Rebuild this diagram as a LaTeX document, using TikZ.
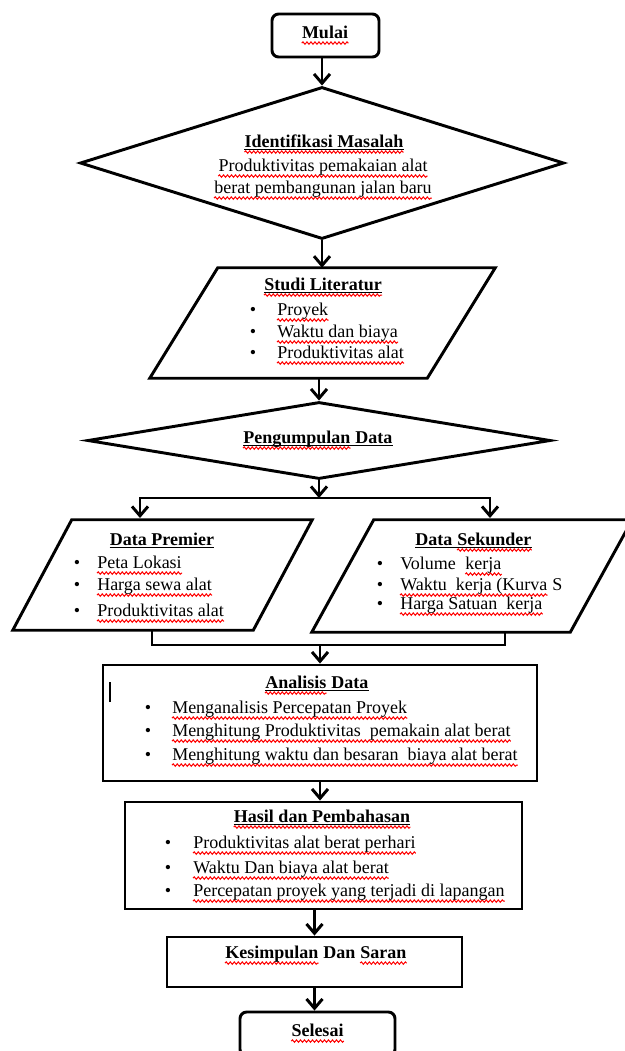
\documentclass[tikz,border=0pt]{standalone}
\usepackage{fontspec}
\setmainfont{Liberation Serif}
\usepackage{tikz}
\usetikzlibrary{shapes.geometric,arrows.meta,positioning,calc,decorations.pathmorphing}

\newcommand\fs{\fontsize{13.5pt}{16pt}\selectfont}
\newcommand\bul[1]{\llap{\textbullet\hspace{#1}}}

\tikzset{
    flow/.style={draw, line width=2.2pt},
    boxsize/.style 2 args={minimum width=#1*0.75pt, minimum height=#2*0.75pt, inner sep=0pt},
    startstop/.style={flow, rectangle, rounded corners=5pt},
    process/.style={flow, rectangle},
    decision/.style={flow, diamond},
    % parallelogram drawn round a plain box, #1 = slant in px
    io/.style={rectangle, append after command={\pgfextra{\draw[flow]
        (\tikzlastnode.south west) -- ([xshift=#1*0.75pt]\tikzlastnode.north west)
        -- (\tikzlastnode.north east) -- ([xshift=-#1*0.75pt]\tikzlastnode.south east) -- cycle;}}},
    arrow/.style={line width=2.2pt, -{Straight Barb[length=7pt,width=12pt]}},
    % red spell-check wave under a node
    wavy/.style={append after command={\pgfextra{\draw[red, line width=0.75pt, decorate,
        decoration={snake, amplitude=0.9pt, segment length=3pt}]
        ([yshift=-3.8pt]\tikzlastnode.base west) -- ([yshift=-3.8pt]\tikzlastnode.base east);}}},
    headline/.style={append after command={\pgfextra{\draw[line width=0.9pt]
        ([yshift=-1.8pt]\tikzlastnode.base west) -- ([yshift=-1.8pt]\tikzlastnode.base east);}}},
    bold/.style={font=\fs\bfseries},
    head/.style={bold, headline, wavy},
    line/.style={anchor=base west},
}

\begin{document}
\begin{tikzpicture}[x=0.75pt, y=-0.75pt, inner sep=0pt, font=\fs]
    \useasboundingbox (0,0) rectangle (625,1051);
    \clip (0,0) rectangle (625,1051);

    % shapes
    \node[startstop, boxsize={107}{43}] (mulai) at (325.5,35.5) {};
    \node[decision, boxsize={484}{152}] (masalah) at (322,163) {};
    \node[io=68, boxsize={345}{110}] (literatur) at (322.5,323) {};
    \node[decision, boxsize={463}{77}] (kumpul) at (319,440.5) {};
    \node[io=59, boxsize={299}{110}] (primer) at (162.5,575) {};
    \node[io=62, boxsize={320}{112}] (sekunder) at (472,576) {};
    \node[process, boxsize={434}{116}] (analisis) at (320,723) {};
    \node[process, boxsize={397}{107}] (hasil) at (323.5,855.5) {};
    \node[process, boxsize={295}{50}] (simpul) at (314.5,962) {};
    \node[startstop, boxsize={155}{44}] (selesai) at (317.5,1034) {};

    \coordinate (split) at (319,498);
    \coordinate (primerIn) at (140,518);
    \coordinate (sekunderIn) at (490,518);
    \coordinate (primerOut) at (152,630);
    \coordinate (sekunderOut) at (505,632);
    \coordinate (merge) at (320,645);

    % texts
    \node[anchor=base, bold, wavy] (tmulai) at (325,38) {Mulai};
    \node[anchor=base, head] (tmasalah) at (324,147) {Identifikasi Masalah};
    \node[anchor=base, wavy] (tmasalah1) at (323,171) {Produktivitas pemakaian alat};
    \node[anchor=base, wavy] (tmasalah2) at (323,193) {berat pembangunan jalan baru};

    \node[anchor=base, head] (tliteratur) at (323,290) {Studi Literatur};
    \node[line, wavy] (lit1) at (277,315) {\bul{15.75pt}Proyek};
    \node[line, wavy] (lit2) at (277,337) {\bul{15.75pt}Waktu dan biaya};
    \node[line, wavy] (lit3) at (277,358) {\bul{15.75pt}Produktivitas alat};

    \node[line, head] (tkumpul) at (243,443) {Pengumpulan};
    \node[base right=0pt of tkumpul, bold, headline] (tkumpul2) {\ Data};

    \node[anchor=base, bold, headline] (tprimer) at (162,545) {Data Premier};
    \node[line, wavy] (prim1) at (97,568) {\bul{12.75pt}Peta Lokasi};
    \node[line, wavy] (prim2) at (97,590) {\bul{12.75pt}Harga sewa\ alat};
    \node[line, wavy] (prim3) at (97,616) {\bul{12.75pt}Produktivitas\ alat};

    \node[line, bold, headline] (tsekunder) at (415,545) {Data\ \null};
    \node[base right=0pt of tsekunder, head] (tsekunder2) {Sekunder};
    \node[line] (sek1) at (400,569) {\bul{12.75pt}Volume\ \ \null};
    \node[base right=0pt of sek1, wavy] (sek1b) {kerja};
    \node[line, wavy] (sek2) at (400,590) {\bul{12.75pt}Waktu\ \ kerja (Kurva};
    \node[base right=0pt of sek2] (sek2b) {\ S};
    \node[line, wavy] (sek3) at (400,609) {\bul{12.75pt}Harga Satuan\ \ kerja};

    \node[line, head] (tanalisis) at (265,688) {Analisis};
    \node[base right=0pt of tanalisis, bold, headline] (tanalisis2) {\ Data};
    \node[anchor=base] (tcursor) at (110,702) {\rule{1.8pt}{15pt}};
    \node[line, wavy] (ana1) at (172,713) {\bul{15.75pt}Menganalisis Percepatan Proyek};
    \node[line, wavy] (ana2) at (172,736) {\bul{15.75pt}Menghitung Produktivitas\ \ pemakain alat berat};
    \node[line, wavy] (ana3) at (172,760) {\bul{15.75pt}Menghitung waktu dan besaran\ \ biaya alat berat};

    \node[anchor=base, head] (thasil) at (322,822) {Hasil dan Pembahasan};
    \node[line, wavy] (has1) at (193,848) {\bul{16.5pt}Produktivitas alat berat\ perhari};
    \node[line, wavy] (has2) at (193,873) {\bul{16.5pt}Waktu Dan biaya alat berat};
    \node[line, wavy] (has3) at (193,896) {\bul{16.5pt}Percepatan proyek yang terjadi di lapangan};

    \node[line, bold, wavy] (tsimpul) at (225,958) {Kesimpulan};
    \node[base right=0pt of tsimpul, bold] (tsimpul2) {\ Dan\ \null};
    \node[base right=0pt of tsimpul2, bold, wavy] (tsimpul3) {Saran};
    \node[anchor=base, bold, wavy] (tselesai) at (317.5,1036) {Selesai};

    % connectors
    \draw[arrow] (mulai.south -| masalah.north) -- (masalah.north);
    \draw[arrow] (masalah.south) -- (masalah.south |- literatur.north);
    \draw[arrow] (kumpul.north |- literatur.south) -- (kumpul.north);
    \draw[arrow] (kumpul.south) -- (split);
    \draw[arrow] (split) -| (primerIn);
    \draw[arrow] (split) -| (sekunderIn);
    \draw[flow] (primerOut) |- (merge) -| (sekunderOut);
    \draw[arrow] (merge) -- (analisis.north);
    \draw[arrow] (analisis.south) -- (analisis.south |- hasil.north);
    \draw[arrow] (simpul.north |- hasil.south) -- (simpul.north);
    \draw[arrow] (simpul.south) -- (simpul.south |- selesai.north);
\end{tikzpicture}
\end{document}
